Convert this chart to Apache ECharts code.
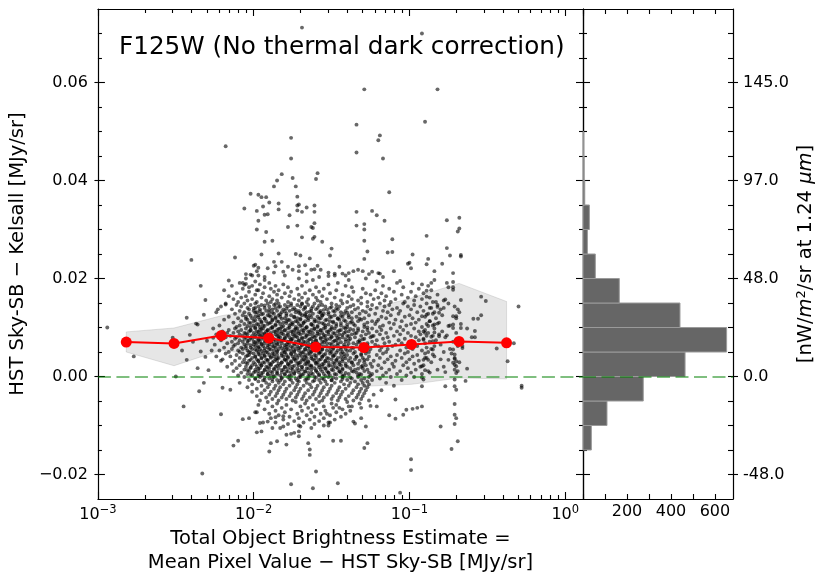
<!DOCTYPE html>
<html><head><meta charset="utf-8">
<script src="https://cdn.jsdelivr.net/npm/echarts@6/dist/echarts.min.js"></script>
<style>html,body{margin:0;padding:0;background:#fff}#c{width:830px;height:581px}</style>
</head><body><div id="c"></div><script>
// ---------- DATA ----------
// running median (red) : x in MJy/sr, y in MJy/sr
const medX = [0.00152, 0.00308, 0.0062, 0.0125, 0.025, 0.051, 0.103, 0.208, 0.42];
const medY = [0.00703, 0.00674, 0.00838, 0.00784, 0.0060, 0.00592, 0.00654, 0.00715, 0.00688];
// grey band (spread around the median)
const bandUpper = [0.0091, 0.0099, 0.0124, 0.0140, 0.0130, 0.0135, 0.0160, 0.0190, 0.0153];
const bandLower = [0.0050, 0.0022, 0.0054, 0.0040, 0.0018, -0.0020, -0.0016, -0.0003, -0.0005];
// histogram: lower bin edge (MJy/sr), bin width 0.005, counts
const histBinLow = [-0.015, -0.010, -0.005, 0.000, 0.005, 0.010, 0.015, 0.020, 0.025, 0.030, 0.035, 0.040, 0.045];
const histCounts = [38, 109, 274, 464, 653, 441, 165, 56, 20, 29, 8, 5, 3];
const histBinWidth = 0.005;
// tick labels
const yMajorTicks = [-0.02, 0, 0.02, 0.04, 0.06];
const yTickLabels = ['\u22120.02', '0.00', '0.02', '0.04', '0.06'];
const rightTickLabels = ['-48.0', '0.0', '48.0', '97.0', '145.0'];
const yMinorTicks = [-0.015, -0.01, -0.005, 0.005, 0.01, 0.015, 0.025, 0.03, 0.035, 0.045, 0.05, 0.055, 0.065, 0.07];
const histMajorTicks = [200, 400, 600];
const histAllTicks = [0, 100, 200, 300, 400, 500, 600];
// scatter points: [100*log10(x), 1e4*y]
const cloudSparse = [
[-169,712],[-92,700],[-129,586],[-82,586],[-90,520],[-134,514],[-176,487],[-119,492],[-120,482],[-218,470],[-176,445],[-134,457],[-117,445],[-159,415],[-160,403],[-182,413],[-185,400],[-187,388],[-175,405],[-173,388],[-113,376],[-202,373],[-197,371],[-206,343],[-198,338],[-197,318],[-198,300],[-172,367],[-172,349],[-171,351],[-172,339],[-169,336],[-166,345],[-161,349],[-161,336],[-184,353],[-184,341],[-177,329],[-195,366],[-192,366],[-190,355],[-194,347],[-193,330],[-191,331],[-134,336],[-134,308],[-124,338],[-121,329],[-116,318],[-129,311],[-129,300],[-178,305],[-172,308],[-163,305],[-162,303],[-161,313],[-192,295],[-169,284],[-162,281],[-161,285],[-156,275],[-193,275],[-188,277],[-129,277],[-111,280],[-76,319],[-68,324],[-68,302],[-69,296],[-89,287],[-76,262],[-74,247],[-67,248],[-67,245],[-88,240],[-89,229],[-79,230],[-84,215],[-72,211],[-86,191],[-76,191],[-72,193],[-72,182],[-72,177],[-54,163],[-89,175],[-89,163],[-240,238],[-234,185],[-212,243],[-216,196],[-200,226],[-199,228],[-197,222],[-202,208],[-201,206],[-197,206],[-207,191],[-206,187],[-205,189],[-203,182],[-198,176],[-195,249],[-184,251],[-173,250],[-170,247],[-164,241],[-151,247],[-150,261],[-127,255],[-129,240],[-114,253],[-111,254],[-98,249],[-101,230],[-99,221],[-187,234],[-182,234],[-186,225],[-171,225],[-175,218],[-181,214],[-159,226],[-161,219],[-163,218],[-148,210],[-148,206],[-152,205],[-143,210],[-139,211],[-136,215],[-130,215],[-124,214],[-120,211],[-119,210],[-106,195],[-98,190],[-100,232],
[-294,100],[-277,41],[-250,0],[-245,-61],[-243,34],[-246,53],[-252,79],[-243,120],[-241,85],[-239,71],[-237,108],[-236,106],[-236,17],[-232,126],[-232,-13],[-235,-30],[-233,-198],[-234,51],[-231,40],[-229,13],[-230,73],[-227,53],[-226,79],[-224,41],[-223,137],[-221,-77],[-220,-23],[-221,32],[-218,147],[-217,89],[-215,-27],[-213,-141],[-210,-131],[-207,-87],[-203,-85],[-199,-73],[-198,-73],[-198,-114],[-231,156],
[-195,-112],[-190,-153],[-189,-136],[-185,-132],[-179,-139],[-179,-119],[-176,-117],[-174,-115],[-183,-105],[-181,-102],[-188,-105],[-176,-220],[-171,-112],[-170,-102],[-171,-122],[-165,-136],[-164,-149],[-164,-160],[-160,-194],[-162,-228],[-163,-105],[-158,-122],[-152,-100],[-151,-94],[-153,-76],[-149,-131],[-144,-131],[-146,-218],[-145,-64],[-139,-61],[-136,-92],[-135,-96],[-131,-85],[-128,-102],[-129,-146],[-127,-136],[-125,-60],[-121,-61],[-113,-79],[-109,-47],[-109,-86],[-104,-78],[-102,-68],[-98,-66],[-95,-64],[-99,-169],[-99,-191],[-106,-237],[-196,-95],[-194,-94],[-191,-92],[-186,-83],[-181,-81],
[-92,123],[-89,126],[-87,113],[-84,106],[-82,108],[-81,130],[-85,128],[-82,142],[-88,103],[-91,92],[-90,89],[-89,83],[-86,81],[-84,90],[-81,82],[-76,84],[-75,103],[-72,106],[-72,99],[-67,107],[-67,99],[-70,123],[-72,123],[-69,137],[-67,156],[-78,140],[-77,157],[-83,152],[-87,140],[-91,75],[-85,72],[-85,55],[-85,45],[-90,38],[-91,34],[-88,34],[-92,21],[-90,13],[-88,11],[-77,9],[-75,34],[-72,55],[-71,45],[-71,36],[-72,28],[-70,21],[-69,11],[-66,58],[-69,62],[-92,-2],[-91,-6],[-92,-20],[-92,-61],
[-71,38],[-70,31],[-71,24],[-71,14],[-70,7],[-71,-6],[-71,-20],[-70,-27],[-71,-56],[-71,-78],[-70,-85],[-71,-97],[-69,-132],
[-30,143],[-33,68],[-37,31],[-44,57],[-28,-19],[-28,-23],[-59,118],[-56,118],[-54,125],[-58,93],[-58,80],[-51,154],[-73,-148],[-80,-102],[-77,-20],[-64,-9],[-63,16]
];
// main cloud: each row = [1e4*y, then 100*log10(x) values]
const cloudRows = [
[227,-167],[224,-178,-145],[221,-191],[218,-157,-133],[215,-198,-171,-110],[212,-187,-152],
[209,-205,-166,-126],[206,-180,-141],[203,-193,-158,-117],
[200,-205,-171,-128],
[197,-193,-162,-139,-84],
[194,-199,-166,-121],
[191,-209,-190,-146,-108],
[188,-196,-181,-152,-92],
[185,-214,-201,-186,-169,-141,-117,-88],
[182,-193,-178,-160,-137,-104,-75],
[179,-207,-189,-172,-155,-130,-113,-94],
[176,-219,-197,-184,-164,-147,-122,-86],
[173,-203,-187,-176,-158,-136,-110,-99],
[170,-211,-194,-180,-167,-151,-128,-118,-91],
[167,-199,-185,-171,-162,-143,-125,-105,-82],
[164,-216,-205,-190,-177,-156,-139,-115,-96],
[161,-208,-195,-182,-169,-160,-148,-131,-120,-101,-87],
[158,-213,-201,-188,-174,-165,-153,-137,-123,-109,-92],
[155,-204,-192,-185,-171,-159,-144,-133,-116,-97,-78],
[152,-210,-198,-189,-178,-166,-157,-140,-127,-112,-103,-85],
[149,-218,-206,-199,-191,-184,-176,-169,-161,-150,-143,-131,-119,-104,-89,-75],
[146,-211,-202,-195,-187,-180,-172,-165,-156,-147,-136,-124,-113,-97,-82],
[143,-221,-208,-197,-190,-183,-178,-170,-162,-154,-145,-138,-127,-116,-101,-93,-71],
[140,-204,-199,-193,-186,-174,-167,-159,-151,-140,-133,-121,-108,-86],
[137,-214,-203,-196,-188,-181,-175,-168,-160,-153,-146,-135,-125,-111,-99,-80],
[134,-209,-200,-192,-185,-177,-171,-163,-157,-149,-141,-130,-117,-106,-91],
[131,-224,-206,-198,-190,-182,-173,-166,-158,-152,-144,-137,-128,-114,-95,-84,-68],
[128,-212,-203,-194,-187,-179,-170,-162,-155,-142,-132,-122,-107,-88],
[125,-207,-197,-191,-184,-176,-169,-164,-156,-148,-139,-126,-112,-100,-79],
[122,-216,-205,-199,-189,-183,-174,-166,-159,-150,-143,-134,-118,-103,-90],
[119,-210,-201,-193,-186,-180,-172,-165,-157,-146,-137,-129,-115,-98,-83,-70],
[116,-219,-204,-196,-188,-178,-170,-161,-153,-145,-131,-120,-109,-94],
[113,-208,-200,-192,-185,-179,-173,-167,-160,-151,-141,-133,-124,-105,-87],
[110,-213,-203,-195,-189,-181,-175,-168,-158,-149,-138,-127,-113,-96,-81],
[107,-206,-198,-191,-183,-176,-171,-163,-155,-147,-136,-122,-110,-99,-89],
[104,-222,-209,-200,-194,-186,-177,-169,-162,-154,-144,-135,-117,-102,-85,-74],
[101,-211,-202,-196,-188,-182,-173,-166,-159,-150,-140,-129,-119,-106,-92],
[98,-226,-212,-205,-199,-194,-189,-183,-178,-172,-167,-161,-155,-148,-141,-133,-124,-112,-97,-84,-63],
[95,-216,-208,-202,-196,-191,-185,-180,-174,-169,-163,-157,-151,-144,-136,-127,-118,-104,-90],
[92,-220,-210,-203,-198,-192,-187,-182,-176,-171,-165,-159,-153,-146,-139,-130,-121,-108,-94,-79],
[89,-213,-206,-200,-195,-189,-184,-178,-173,-168,-162,-156,-149,-142,-134,-126,-115,-101,-88,-70],
[86,-224,-209,-204,-197,-193,-186,-181,-175,-170,-164,-158,-152,-145,-137,-128,-119,-106,-93,-81],
[83,-215,-207,-201,-196,-190,-185,-179,-174,-166,-160,-154,-147,-140,-131,-123,-110,-99,-85],
[80,-218,-211,-205,-199,-194,-188,-183,-177,-172,-167,-161,-155,-150,-143,-135,-125,-114,-96,-77,-60],
[77,-212,-206,-201,-195,-190,-184,-180,-175,-169,-163,-157,-151,-145,-138,-129,-117,-103,-91],
[74,-221,-209,-203,-197,-192,-186,-181,-176,-171,-165,-160,-154,-147,-139,-132,-121,-107,-94,-83],
[71,-214,-207,-200,-196,-189,-184,-178,-173,-168,-162,-156,-149,-141,-133,-124,-113,-100,-87,-72],
[68,-217,-210,-204,-198,-193,-187,-182,-177,-170,-165,-159,-153,-146,-136,-127,-116,-105,-90],
[65,-225,-212,-206,-200,-195,-190,-185,-179,-174,-169,-163,-157,-150,-142,-134,-122,-109,-97,-80],
[62,-213,-205,-199,-194,-188,-183,-178,-172,-166,-161,-155,-148,-140,-131,-120,-111,-95,-84,-66],
[59,-219,-208,-202,-197,-191,-186,-180,-175,-170,-164,-158,-151,-144,-137,-128,-118,-102,-89],
[56,-214,-207,-201,-196,-190,-184,-179,-173,-167,-162,-156,-149,-141,-132,-125,-114,-98,-86,-74],
[53,-222,-210,-204,-198,-193,-187,-181,-176,-171,-165,-160,-153,-146,-138,-129,-119,-106,-92],
[50,-216,-209,-203,-197,-192,-185,-180,-174,-168,-163,-157,-150,-143,-135,-126,-115,-101,-88,-78],
[47,-218,-207,-200,-194,-188,-182,-176,-170,-164,-158,-151,-144,-136,-128,-117,-103,-90,-73],
[44,-211,-203,-196,-190,-185,-179,-173,-167,-161,-155,-148,-140,-131,-121,-108,-95],
[41,-215,-205,-199,-193,-187,-181,-175,-169,-163,-156,-149,-142,-134,-126,-112,-98,-84],
[38,-209,-201,-195,-189,-184,-178,-172,-166,-160,-153,-146,-138,-130,-119,-105,-89],
[35,-220,-206,-198,-192,-186,-180,-174,-168,-162,-157,-150,-143,-135,-127,-114,-100,-80],
[32,-212,-203,-197,-191,-185,-179,-173,-167,-161,-154,-147,-139,-132,-123,-109,-94],
[29,-207,-200,-194,-188,-182,-176,-170,-165,-159,-152,-145,-137,-129,-116,-102,-86,-68],
[26,-214,-204,-196,-190,-184,-178,-172,-166,-160,-155,-148,-141,-133,-125,-111,-97],
[23,-209,-201,-195,-189,-183,-177,-171,-164,-158,-151,-144,-136,-128,-120,-104,-91],
[20,-217,-205,-198,-192,-186,-180,-175,-169,-163,-156,-149,-140,-131,-124,-110,-93,-78],
[17,-211,-202,-196,-190,-184,-178,-172,-166,-161,-154,-146,-138,-130,-118,-101],
[14,-206,-199,-193,-187,-181,-175,-169,-163,-157,-150,-143,-135,-127,-113,-96,-82],
[11,-213,-203,-197,-191,-185,-179,-173,-167,-160,-153,-145,-137,-129,-121,-106],
[8,-208,-200,-194,-188,-182,-176,-171,-165,-159,-152,-144,-134,-126,-115,-99,-87],
[5,-204,-197,-191,-185,-180,-174,-168,-162,-155,-148,-139,-132,-124,-108,-92],
[2,-210,-201,-195,-189,-183,-177,-170,-164,-158,-151,-142,-133,-125,-117,-102],
[-1,-206,-196,-187,-178,-170,-161,-152,-143,-133,-126,-112,-97],
[-4,-199,-190,-182,-173,-165,-156,-147,-137,-129,-119],
[-7,-203,-193,-185,-176,-167,-158,-150,-140,-131,-124,-105],
[-10,-197,-188,-180,-171,-162,-154,-144,-135,-127],
[-13,-209,-192,-184,-175,-166,-157,-148,-138,-130,-115],
[-16,-201,-190,-181,-172,-164,-153,-142,-133,-126],
[-19,-195,-186,-177,-168,-159,-150,-139,-129,-110],
[-22,-204,-191,-183,-173,-163,-155,-145,-134,-127],
[-25,-198,-187,-179,-170,-160,-151,-141,-131],
[-28,-193,-184,-174,-165,-156,-146,-136,-128,-118],
[-31,-201,-189,-180,-171,-161,-152,-143,-132],
[-34,-195,-185,-176,-167,-157,-147,-137,-129],
[-37,-190,-181,-172,-162,-153,-144,-133,-123],
[-40,-198,-186,-177,-168,-158,-149,-139,-130],
[-43,-192,-182,-173,-164,-155,-145,-134],
[-46,-188,-179,-169,-160,-150,-141,-131],
[-49,-196,-184,-175,-166,-156,-146,-136,-126],
[-52,-191,-173,-158,-140],
[-55,-185,-167,-150,-132],
[-58,-197,-179,-162,-147],
[-61,-188,-170,-155,-137],
[-64,-182,-165,-149,-131],
[-67,-193,-176,-160,-143],
[-70,-186,-169,-154,-138],
[-73,-180,-163,-147],
[-76,-190,-172,-157,-141],
[-79,-184,-166,-151],
[-82,-177,-161,-144],
[-85,-189,-171,-155],
[-88,-181,-164,-148],
[-91,-174,-158],
[-94,-186,-168,-152],
[-97,-178,-161],
[-100,-171,-155]
];
// densest part of the cloud (x ~ 0.009-0.05): same row format
const coreRows = [
[148,-186,-169],
[145,-193,-176,-158],
[142,-184,-167,-150],
[139,-200,-179,-163,-147],
[136,-190,-173,-155],
[133,-196,-180,-164,-148],
[130,-199,-188,-171,-157,-140],
[127,-195,-183,-167,-152],
[124,-202,-190,-179,-167,-156,-144],
[121,-197,-186,-174,-163,-151,-139],
[118,-205,-193,-182,-170,-158,-146,-132],
[115,-199,-188,-177,-165,-154,-142],
[112,-195,-184,-172,-161,-149,-137,-121],
[109,-202,-190,-179,-168,-156,-144],
[106,-197,-186,-175,-163,-152,-140,-129],
[103,-204,-193,-181,-170,-159,-147],
[100,-199,-188,-177,-166,-154,-142,-127],
[97,-195,-184,-173,-161,-150,-138],
[94,-202,-191,-180,-168,-157,-145,-133],
[91,-197,-186,-175,-164,-152,-141],
[88,-205,-193,-182,-171,-159,-148,-135],
[85,-199,-189,-178,-166,-155,-143],
[82,-195,-184,-173,-162,-150,-139,-124],
[79,-202,-191,-180,-169,-157,-146],
[76,-197,-187,-176,-164,-153,-141,-130],
[73,-204,-193,-182,-171,-160,-148],
[70,-199,-189,-178,-167,-155,-144,-132],
[67,-195,-185,-174,-162,-151,-139],
[64,-202,-191,-180,-169,-158,-146,-127],
[61,-197,-187,-176,-165,-153,-142],
[58,-205,-193,-182,-171,-160,-149,-136],
[55,-199,-189,-178,-167,-156,-144],
[52,-195,-185,-174,-163,-151,-140,-128],
[49,-202,-191,-180,-169,-158,-147],
[46,-197,-187,-176,-165,-154,-142,-131],
[43,-204,-193,-182,-171,-160,-149],
[40,-199,-189,-178,-167,-156,-144,-134],
[37,-195,-185,-174,-163,-152,-141],
[34,-202,-191,-180,-169,-158,-147,-129],
[31,-197,-187,-176,-165,-154,-143],
[28,-205,-193,-182,-171,-160,-149,-137],
[25,-199,-189,-178,-167,-156,-145],
[22,-195,-185,-174,-163,-152,-141,-130],
[19,-202,-191,-180,-169,-158,-147],
[16,-197,-187,-176,-165,-154,-143,-133],
[13,-204,-193,-182,-171,-160,-149],
[10,-199,-189,-178,-167,-156,-145,-136],
[7,-195,-185,-174,-163,-152,-141],
[4,-202,-191,-180,-169,-158,-147,-131],
[1,-197,-187,-176,-165,-154,-143],
[-2,-193,-182,-171,-160,-149,-138],
[-5,-199,-188,-177,-166,-155,-143],
[-8,-194,-183,-172,-161,-150]
];

// ---------- BUILD ----------
const FONT = 'DejaVu Sans';
const X_MIN = 0.001, X_MAX = 1.3, Y_MIN = -0.025, Y_MAX = 0.075, H_MAX = 682;
const scatterData = [];
cloudSparse.forEach(p => scatterData.push([Math.pow(10, p[0] / 100), p[1] / 1e4]));
[cloudRows, coreRows].forEach(rows => rows.forEach(r => {
  for (let j = 1; j < r.length; j++) scatterData.push([Math.pow(10, r[j] / 100), r[0] / 1e4]);
}));
const medData = medX.map((x, i) => [x, medY[i]]);
const bandData = medX.map((x, i) => [x, bandLower[i], bandUpper[i]]);
const histData = histBinLow.map((lo, i) => [lo, lo + histBinWidth, histCounts[i]]);
const logMinor = [];
for (let n = -3; n <= -1; n++) for (let k = 2; k <= 9; k++) logMinor.push(Math.log10(k * Math.pow(10, n)));

const BLACK = '#000';
const line = (show) => ({ show, onZero: false, lineStyle: { color: BLACK, width: 1.2 } });
const tick = (vals, len, inside) => ({ show: true, inside: inside !== false, length: len, customValues: vals, lineStyle: { color: BLACK, width: 1.1 } });
const noLabel = { show: false };
const lblFor = (ticks, labels) => (v) => { const i = ticks.findIndex(t => Math.abs(t - v) < 1e-9); return i >= 0 ? labels[i] : ''; };

function yAx(grid, pos, extra) {
  return Object.assign({ type: 'value', gridIndex: grid, position: pos, min: Y_MIN, max: Y_MAX,
    splitLine: { show: false }, axisLine: line(false), axisLabel: noLabel, axisTick: { show: false } }, extra);
}
function xHist(pos, extra) {
  return Object.assign({ type: 'value', gridIndex: 1, position: pos, min: 0, max: H_MAX,
    splitLine: { show: false }, axisLine: line(false), axisLabel: noLabel, axisTick: { show: false } }, extra);
}
function xMinor(pos) {
  return { type: 'value', gridIndex: 0, position: pos, min: -3, max: Math.log10(X_MAX),
    splitLine: { show: false }, axisLine: line(false), axisLabel: noLabel, axisTick: tick(logMinor, 4) };
}
const logFmt = (v) => {
  const e = Math.log10(v), r = Math.round(e);
  if (Math.abs(e - r) > 1e-6) return '';
  return '{b|10}{s|' + (r < 0 ? '\u2212' + (-r) : r) + '}';
};
const logRich = { b: { fontSize: 16, fontFamily: FONT, color: BLACK }, s: { fontSize: 11.5, fontFamily: FONT, color: BLACK, padding: [0, 0, 9, 0] } };

const option = {
  animation: false,
  backgroundColor: '#fff',
  textStyle: { fontFamily: FONT },
  title: { text: 'F125W (No thermal dark correction)', left: 114, top: 30,
    textStyle: { fontFamily: FONT, fontSize: 24.7, fontWeight: 'normal', color: BLACK } },
  grid: [
    { left: 92, top: 9, width: 491, height: 490 },
    { left: 583, top: 9, width: 150, height: 490 }
  ],
  xAxis: [
    { type: 'log', logBase: 10, gridIndex: 0, position: 'bottom', min: X_MIN, max: X_MAX,
      splitLine: { show: false }, axisLine: line(true),
      axisTick: { show: true, inside: true, length: 7, lineStyle: { color: BLACK, width: 1.1 } },
      axisLabel: { show: true, formatter: logFmt, rich: logRich, margin: 5, showMaxLabel: false },
      name: 'Total Object Brightness Estimate =\nMean Pixel Value \u2212 HST Sky-SB [MJy/sr]',
      nameLocation: 'middle', nameGap: 24,
      nameTextStyle: { fontFamily: FONT, fontSize: 19.5, lineHeight: 23.5, color: BLACK } },
    { type: 'log', logBase: 10, gridIndex: 0, position: 'top', min: X_MIN, max: X_MAX,
      splitLine: { show: false }, axisLine: line(true), axisLabel: noLabel,
      axisTick: { show: true, inside: true, length: 7, lineStyle: { color: BLACK, width: 1.1 } } },
    xMinor('bottom'),
    xMinor('top'),
    xHist('bottom', { axisLine: line(true), axisTick: tick(histAllTicks, 5),
      axisLabel: { show: true, customValues: histMajorTicks, fontSize: 16, color: BLACK, fontFamily: FONT, margin: 5 } }),
    xHist('top', { axisLine: line(true), axisTick: tick(histAllTicks, 5) })
  ],
  yAxis: [
    yAx(0, 'left', { axisLine: line(true), axisTick: tick(yMajorTicks, 7),
      axisLabel: { show: true, customValues: yMajorTicks, formatter: lblFor(yMajorTicks, yTickLabels),
        fontSize: 16, color: BLACK, fontFamily: FONT, margin: 10 },
      name: 'HST Sky-SB \u2212 Kelsall [MJy/sr]', nameLocation: 'middle', nameGap: 64,
      nameTextStyle: { fontFamily: FONT, fontSize: 19.5, color: BLACK } }),
    yAx(0, 'left', { axisTick: tick(yMajorTicks, 3.5, false) }),
    yAx(0, 'left', { axisTick: tick(yMinorTicks, 4) }),
    yAx(0, 'right', { axisLine: line(true), axisTick: tick(yMajorTicks, 7) }),
    yAx(0, 'right', { axisTick: tick(yMinorTicks, 4) }),
    yAx(1, 'left', { axisLine: line(true), axisTick: tick(yMajorTicks, 7) }),
    yAx(1, 'left', { axisTick: tick(yMinorTicks, 4) }),
    yAx(1, 'right', { axisLine: line(true), axisTick: tick(yMajorTicks, 5),
      axisLabel: { show: true, customValues: yMajorTicks, formatter: lblFor(yMajorTicks, rightTickLabels),
        fontSize: 16, color: BLACK, fontFamily: FONT, margin: 10 },
      name: '[nW/{i|m}{sup|2}/sr at 1.24 {i|\u03bcm}]', nameLocation: 'middle', nameGap: 62, nameRotate: 90,
      nameTextStyle: { fontFamily: FONT, fontSize: 19.5, color: BLACK,
        rich: { i: { fontStyle: 'italic', fontFamily: FONT, fontSize: 19.5, color: BLACK },
                sup: { fontFamily: FONT, fontSize: 13, color: BLACK, padding: [0, 0, 9, 0] } } } }),
    yAx(1, 'right', { axisTick: tick(yMajorTicks, 5, false) }),
    yAx(1, 'right', { axisTick: tick(yMinorTicks, 5) })
  ],
  series: [
    { type: 'custom', name: 'spread', xAxisIndex: 0, yAxisIndex: 0, z: 1, silent: true,
      data: bandData, encode: { x: 0, y: [1, 2] },
      renderItem: (params, api) => {
        if (params.dataIndex !== 0) return { type: 'group', children: [] };
        const pts = [];
        for (let i = 0; i < medX.length; i++) pts.push(api.coord([medX[i], bandUpper[i]]));
        for (let i = medX.length - 1; i >= 0; i--) pts.push(api.coord([medX[i], bandLower[i]]));
        return { type: 'polygon', shape: { points: pts },
          style: { fill: 'rgba(128,128,128,0.2)', stroke: 'rgba(128,128,128,0.22)', lineWidth: 1 } };
      } },
    { type: 'scatter', name: 'objects', xAxisIndex: 0, yAxisIndex: 0, z: 2, data: scatterData,
      symbol: 'circle', symbolSize: 3.9, large: false, progressive: 0,
      itemStyle: { color: 'rgba(0,0,0,0.74)' },
      markLine: { silent: true, symbol: 'none', label: { show: false }, z: 3,
        lineStyle: { color: 'rgba(0,128,0,0.5)', width: 2, type: [13, 5.5] }, data: [{ yAxis: 0 }] } },
    { type: 'line', name: 'median', xAxisIndex: 0, yAxisIndex: 0, z: 5, data: medData,
      symbol: 'circle', symbolSize: 11, showSymbol: true,
      lineStyle: { color: '#ff0000', width: 2 }, itemStyle: { color: '#ff0000' } },
    { type: 'custom', name: 'histogram', xAxisIndex: 4, yAxisIndex: 5, z: 2, data: histData,
      encode: { x: 2, y: [0, 1] },
      renderItem: (params, api) => {
        const lo = api.value(0), hi = api.value(1), c = api.value(2);
        const p0 = api.coord([0, hi]), p1 = api.coord([c, lo]);
        return { type: 'rect', shape: { x: p0[0], y: p0[1], width: p1[0] - p0[0], height: p1[1] - p0[1] },
          style: { fill: '#666666', stroke: '#9a9a9a', lineWidth: 1 } };
      },
      markLine: { silent: true, symbol: 'none', label: { show: false },
        lineStyle: { color: 'rgba(0,128,0,0.5)', width: 2, type: [13, 5.5] }, data: [{ yAxis: 0 }] } }
  ]
};
const chart = echarts.init(document.getElementById('c'), null, { renderer: 'canvas' });
chart.setOption(option);
</script></body></html>
